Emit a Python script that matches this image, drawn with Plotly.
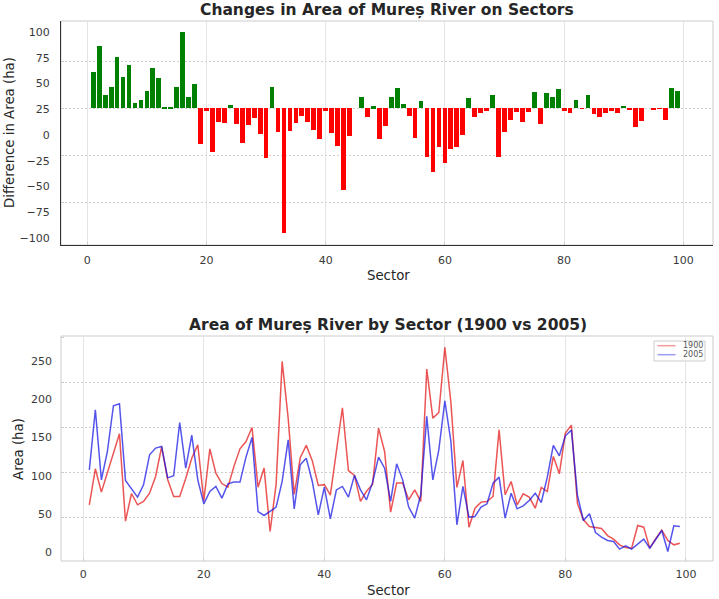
import numpy as np
import plotly.graph_objects as go

# ---------------- data ----------------
sectors = list(range(1, 100))

area_1900 = [64.5, 104.3, 78.5, 100.5, 120.0, 143.0, 46.5, 77.0, 64.5, 68.2,
             77.4, 95.8, 128.5, 92.5, 73.7, 73.7, 93.5, 116.0, 130.8, 69.0,
             126.4, 99.5, 88.0, 84.0, 107.0, 126.4, 134.5, 150.0, 84.0, 105.1,
             35.0, 87.4, 223.0, 160.0, 75.9, 116.5, 130.2, 113.3, 85.9, 86.8,
             75.2, 121.0, 171.8, 102.4, 97.0, 68.4, 79.5, 87.0, 149.3, 123.5,
             56.4, 88.5, 88.5, 70.0, 81.0, 68.2, 214.5, 160.3, 166.6, 238.5,
             178.0, 83.7, 113.5, 39.8, 60.8, 67.5, 68.2, 73.7, 147.4, 75.6,
             90.3, 64.5, 76.7, 73.0, 60.8, 83.7, 79.2, 118.0, 98.8, 143.8,
             152.6, 66.0, 47.9, 40.5, 39.8, 38.3, 30.5, 26.5, 20.3, 17.2,
             16.6, 41.7, 39.8, 16.6, 27.0, 36.5, 25.1, 20.3, 22.1]

area_2005 = [103.2, 169.6, 92.1, 123.5, 174.0, 176.2, 91.5, 82.5, 73.0, 86.6,
             119.8, 127.2, 129.0, 94.3, 96.6, 155.5, 105.0, 141.5, 92.1, 65.6,
             79.2, 84.8, 71.9, 87.7, 89.6, 89.6, 117.2, 139.0, 57.1, 52.7,
             57.1, 61.9, 90.3, 136.4, 60.0, 108.7, 116.1, 90.3, 53.4, 84.0,
             49.0, 81.0, 84.8, 73.0, 97.0, 81.0, 70.0, 89.0, 117.2, 105.0,
             68.2, 109.8, 92.1, 62.0, 49.8, 75.6, 162.2, 92.1, 125.3, 179.5,
             134.8, 42.4, 84.8, 50.9, 51.6, 62.0, 65.6, 88.5, 95.1, 49.8,
             77.4, 60.1, 63.4, 69.3, 77.4, 67.1, 95.1, 130.1, 118.7, 140.8,
             147.1, 75.2, 47.2, 54.6, 33.9, 28.8, 25.1, 24.0, 15.5, 19.2,
             15.5, 21.4, 26.5, 16.6, 25.8, 36.1, 12.9, 41.3, 40.5]

area_diff = [38.9, 65.8, 14.1, 23.0, 54.5, 33.3, 45.6, 5.3, 8.8, 18.4,
             42.8, 32.5, 1.0, 1.8, 23.0, 81.4, 11.7, 25.5, -38.2, -2.8,
             -46.0, -14.5, -15.6, 3.9, -17.0, -36.8, -17.3, -10.6, -26.9, -52.4,
             22.3, -25.5, -132.7, -23.7, -15.9, -7.8, -14.1, -23.0, -32.5, -2.8,
             -26.2, -40.0, -87.0, -29.4, 0.0, 12.4, -9.5, 2.1, -32.2, -19.1,
             11.7, 21.9, 4.2, -7.8, -31.5, 7.8, -52.0, -67.6, -41.4, -58.4,
             -43.2, -40.7, -28.7, 11.3, -9.5, -5.3, -2.5, 14.5, -52.0, -25.5,
             -12.4, -3.9, -14.1, -3.5, 17.3, -17.0, 16.3, 12.4, 20.2, -2.8,
             -5.3, 9.2, -0.5, 14.1, -6.4, -9.2, -5.0, -2.8, -5.0, 2.5,
             -1.0, -19.5, -13.1, 0.0, -1.8, -0.5, -12.4, 21.6, 18.7]

series_names = ["1900", "2005"]
x_tick_vals = [0, 20, 40, 60, 80, 100]
top_tick_text = ["100", "75", "50", "25", "0", "\u221225", "\u221250", "\u221275", "\u2212100"]
bottom_tick_text = ["250", "200", "150", "100", "50", "0"]
top_grid_vals = [50, 0, -50, -100]
bottom_grid_vals = [50, 100, 150, 200, 250]

# ---------------- styling / layout ----------------
W, H = 719, 599
FONT = "DejaVu Sans"
DARK = "#262626"
TICK = "#3a3a3a"
FRAME = "#cccccc"
VGRID = "#e4e4e4"
HGRID = "#cfcfcf"
RED = "rgba(228,20,20,0.72)"
BLUE = "rgba(20,20,228,0.72)"
RED_LEG = "rgba(228,20,20,0.42)"
BLUE_LEG = "rgba(20,20,228,0.42)"

bar_colors = ["green" if d >= 0 else "red" for d in area_diff]

fig = go.Figure()
fig.add_trace(go.Bar(x=sectors, y=area_diff, width=0.8, marker_color=bar_colors,
                     marker_line_width=0, showlegend=False, xaxis="x", yaxis="y"))
fig.add_trace(go.Scatter(x=sectors, y=area_1900, mode="lines", name=series_names[0],
                         line=dict(color=RED, width=1.5), showlegend=False,
                         xaxis="x2", yaxis="y2"))
fig.add_trace(go.Scatter(x=sectors, y=area_2005, mode="lines", name=series_names[1],
                         line=dict(color=BLUE, width=1.5), showlegend=False,
                         xaxis="x2", yaxis="y2"))

xdom = [61 / W, 713 / W]
top_dom = [1 - 245 / H, 1 - 21 / H]
bot_dom = [1 - 561 / H, 1 - 336 / H]

tick_font = dict(family=FONT, size=11, color=TICK)


def xaxis_cfg(rng, anchor, dark):
    return dict(domain=xdom, range=rng, anchor=anchor, tickmode="array",
                tickvals=x_tick_vals, showgrid=True, gridcolor=VGRID, gridwidth=1,
                zeroline=False, ticks="inside", ticklen=3, tickcolor=FRAME,
                tickfont=tick_font, ticklabelstandoff=5,
                showline=dark, linecolor="#333333", linewidth=1)


def yaxis_cfg(dom, rng, anchor, tickpos, ticktext, gridvals, dark):
    return dict(domain=dom, range=rng, anchor=anchor, tickmode="array",
                tickvals=list(tickpos), ticktext=ticktext, showgrid=False,
                zeroline=False, ticks="", tickfont=tick_font, ticklabelstandoff=8,
                showline=dark, linecolor="#333333", linewidth=1,
                minor=dict(tickmode="array", tickvals=gridvals, showgrid=True,
                           gridcolor=HGRID, gridwidth=1, griddash="2px,2px",
                           ticks="inside", ticklen=3, tickcolor=FRAME))


top_label_pos = np.linspace(81.3, -138.0, len(top_tick_text))
bot_label_pos = np.linspace(223.0, 12.4, len(bottom_tick_text))

# compact legend box (matplotlib-like), drawn in paper coordinates
leg_box = dict(type="rect", xref="paper", yref="paper",
               x0=654 / W, x1=705 / W, y0=1 - 361 / H, y1=1 - 341 / H,
               line=dict(color=FRAME, width=1), fillcolor="white", layer="above")
leg_rows = [345.7, 354.7]
leg_colors = [RED_LEG, BLUE_LEG]
leg_shapes = [dict(type="line", xref="paper", yref="paper", x0=657.5 / W, x1=675.5 / W,
                   y0=1 - yy / H, y1=1 - yy / H, line=dict(color=c, width=1.5),
                   layer="above")
              for yy, c in zip(leg_rows, leg_colors)]
leg_texts = [dict(text=n, x=681 / W, y=1 - yy / H, xref="paper", yref="paper",
                  showarrow=False, xanchor="left", yanchor="middle",
                  font=dict(size=8, color="#555555"))
             for yy, n in zip(leg_rows, series_names)]

fig.update_layout(
    width=W, height=H, margin=dict(l=0, r=0, t=0, b=0),
    paper_bgcolor="white", plot_bgcolor="white",
    font=dict(family=FONT, color=DARK),
    bargap=0, showlegend=False,
    xaxis=xaxis_cfg([-4.41, 104.98], "y", True),
    yaxis=yaxis_cfg(top_dom, [-145.4, 92.9], "x", top_label_pos, top_tick_text,
                    top_grid_vals, True),
    xaxis2=xaxis_cfg([-3.7, 104.5], "y2", False),
    yaxis2=yaxis_cfg(bot_dom, [2.4, 251.1], "x2", bot_label_pos, bottom_tick_text,
                     bottom_grid_vals, False),
    shapes=[
        dict(type="rect", xref="x domain", yref="y domain", x0=0, x1=1, y0=0, y1=1,
             line=dict(color=FRAME, width=1), layer="below"),
        dict(type="rect", xref="x2 domain", yref="y2 domain", x0=0, x1=1, y0=0, y1=1,
             line=dict(color=FRAME, width=1), layer="below"),
        leg_box,
    ] + leg_shapes,
    annotations=[
        dict(text="<b>Changes in Area of Mureș River on Sectors</b>", x=387 / W,
             y=1 - 10 / H, xref="paper", yref="paper", showarrow=False,
             xanchor="center", yanchor="middle", font=dict(size=15.5, color=DARK)),
        dict(text="<b>Area of Mureș River by Sector (1900 vs 2005)</b>", x=388 / W,
             y=1 - 325 / H, xref="paper", yref="paper", showarrow=False,
             xanchor="center", yanchor="middle", font=dict(size=15.5, color=DARK)),
        dict(text="Sector", x=388 / W, y=1 - 276 / H, xref="paper", yref="paper",
             showarrow=False, xanchor="center", yanchor="middle",
             font=dict(size=13.3, color=DARK)),
        dict(text="Sector", x=388 / W, y=1 - 590.5 / H, xref="paper", yref="paper",
             showarrow=False, xanchor="center", yanchor="middle",
             font=dict(size=13.3, color=DARK)),
        dict(text="Difference in Area (ha)", x=9 / W, y=1 - 133 / H, xref="paper",
             yref="paper", showarrow=False, textangle=-90, xanchor="center",
             yanchor="middle", font=dict(size=13.3, color=DARK)),
        dict(text="Area (ha)", x=18.4 / W, y=1 - 448.5 / H, xref="paper",
             yref="paper", showarrow=False, textangle=-90, xanchor="center",
             yanchor="middle", font=dict(size=13.3, color=DARK)),
    ] + leg_texts,
)

fig.write_html("out.html")
